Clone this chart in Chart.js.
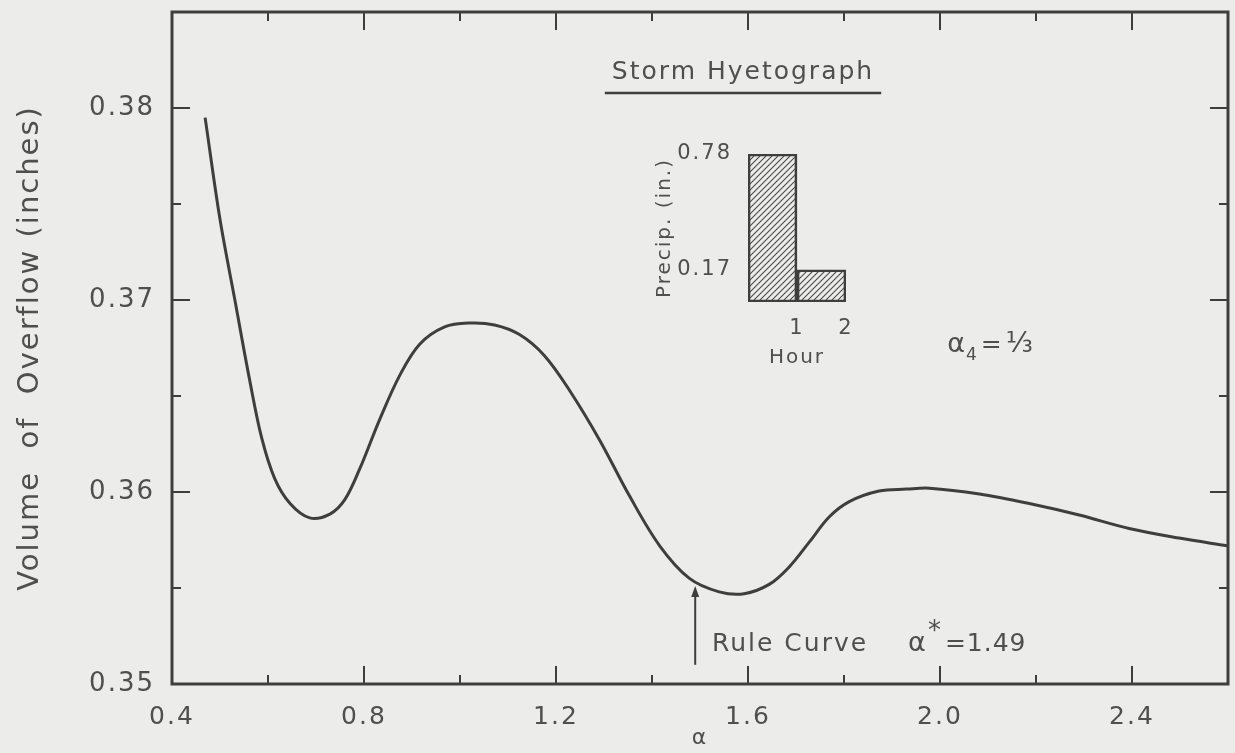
<!DOCTYPE html>
<html>
<head>
<meta charset="utf-8">
<script src="https://cdn.jsdelivr.net/npm/chart.js@4.4.1/dist/chart.umd.min.js"></script>
<style>
  html, body { margin: 0; padding: 0; background: #ececea; }
  #wrap { position: relative; width: 1235px; height: 753px; overflow: hidden; }
  #main { position: absolute; left: 0; top: 0; }
  #inset { position: absolute; left: 590px; top: 50px; }
</style>
</head>
<body>
<div id="wrap">
  <canvas id="main" width="1235" height="753"></canvas>
  <canvas id="inset" width="310" height="320"></canvas>
</div>
<script>
// Overflow volume as a function of the rule-curve parameter alpha
const alphaValues = [
  0.469, 0.500, 0.531, 0.562, 0.587, 0.614, 0.646, 0.687, 0.729, 0.760,
  0.791, 0.833, 0.875, 0.916, 0.968, 1.020, 1.072, 1.124, 1.176, 1.228,
  1.291, 1.353, 1.416, 1.478, 1.540, 1.592, 1.645, 1.686, 1.728, 1.769,
  1.811, 1.873, 1.930, 1.978, 2.082, 2.186, 2.290, 2.394, 2.498, 2.598
];
const overflowValues = [
  0.3795, 0.3742, 0.3700, 0.3658, 0.3628, 0.3607, 0.3594, 0.35865, 0.35885, 0.3596,
  0.3612, 0.3638, 0.3661, 0.3677, 0.3686, 0.3688, 0.3687, 0.3682, 0.3671, 0.3653,
  0.3627, 0.3598, 0.3572, 0.3555, 0.3548, 0.3547, 0.3552, 0.3561, 0.3574, 0.3587,
  0.3595, 0.36005, 0.36015, 0.3602, 0.3599, 0.3594, 0.3588, 0.3581, 0.3576, 0.3572
];
const xTickLabels = ['0.4', '0.8', '1.2', '1.6', '2.0', '2.4'];
const yTickLabels = ['0.35', '0.36', '0.37', '0.38'];

// Selected rule curve
const ruleCurveAlpha = 1.49;
const ruleArrowFrom = 0.3510;
const ruleArrowTo = 0.3551;

// Storm hyetograph (inset)
const stormHours = [1, 2];
const stormPrecip = [0.78, 0.17];
const precipTickLabels = ['0.17', '0.78'];
const insetTitle = 'Storm Hyetograph';

const INK = '#3e3e3e';
const TEXT = '#4f4f4f';
const FONT = "'DejaVu Sans', sans-serif";

function isMultiple(v, step) {
  const r = v / step;
  return Math.abs(r - Math.round(r)) < 1e-6;
}

// Frame, inward tick marks on all four sides, arrow and annotations
const frameAndTicks = {
  id: 'frameAndTicks',
  beforeDraw(chart) {
    chart.ctx.letterSpacing = '2px';
  },
  afterDatasetsDraw(chart) {
    const { ctx, chartArea: a, scales: { x, y } } = chart;
    ctx.save();
    ctx.strokeStyle = INK;
    ctx.lineWidth = 3;
    ctx.strokeRect(a.left, a.top, a.right - a.left, a.bottom - a.top);

    ctx.lineWidth = 2;
    ctx.beginPath();
    x.ticks.forEach(t => {
      if (t.value <= x.min + 1e-9 || t.value >= x.max - 1e-9) return;
      const px = x.getPixelForValue(t.value);
      const len = isMultiple(t.value, 0.4) ? 18 : 9;
      ctx.moveTo(px, a.bottom); ctx.lineTo(px, a.bottom - len);
      ctx.moveTo(px, a.top); ctx.lineTo(px, a.top + len);
    });
    y.ticks.forEach(t => {
      if (t.value <= y.min + 1e-9 || t.value >= y.max - 1e-9) return;
      const py = y.getPixelForValue(t.value);
      const len = isMultiple(t.value, 0.01) ? 18 : 9;
      ctx.moveTo(a.left, py); ctx.lineTo(a.left + len, py);
      ctx.moveTo(a.right, py); ctx.lineTo(a.right - len, py);
    });
    ctx.stroke();

    // Arrow pointing at the rule curve value
    const ax = x.getPixelForValue(ruleCurveAlpha);
    const ay0 = y.getPixelForValue(ruleArrowFrom);
    const ay1 = y.getPixelForValue(ruleArrowTo);
    ctx.lineWidth = 2;
    ctx.beginPath();
    ctx.moveTo(ax, ay0); ctx.lineTo(ax, ay1 + 8);
    ctx.stroke();
    ctx.fillStyle = INK;
    ctx.beginPath();
    ctx.moveTo(ax, ay1); ctx.lineTo(ax - 4, ay1 + 11); ctx.lineTo(ax + 4, ay1 + 11);
    ctx.closePath(); ctx.fill();

    // Annotation: Rule Curve α* = 1.49
    ctx.fillStyle = TEXT;
    ctx.textBaseline = 'alphabetic';
    ctx.textAlign = 'left';
    ctx.letterSpacing = '2px';
    let tx = x.getPixelForValue(1.525);
    const ty = y.getPixelForValue(0.35172);
    ctx.font = `25px ${FONT}`;
    ctx.fillText('Rule Curve', tx, ty);
    tx += ctx.measureText('Rule Curve').width + 40;
    ctx.font = `27px ${FONT}`;
    ctx.fillText('α', tx, ty);
    tx += ctx.measureText('α').width;
    ctx.font = `26px ${FONT}`;
    ctx.fillText('*', tx, ty - 12);
    tx += ctx.measureText('*').width + 2;
    ctx.font = `25px ${FONT}`;
    ctx.letterSpacing = '1px';
    ctx.fillText('=1.49', tx, ty);

    // Annotation: α4 = 1/3
    ctx.letterSpacing = '1px';
    let sx = x.getPixelForValue(2.015);
    const sy = y.getPixelForValue(0.36729);
    ctx.font = `27px ${FONT}`;
    ctx.fillText('α', sx, sy);
    sx += ctx.measureText('α').width;
    ctx.font = `17px ${FONT}`;
    ctx.fillText('4', sx, sy + 8);
    sx += ctx.measureText('4').width + 3;
    ctx.font = `25px ${FONT}`;
    ctx.fillText('=', sx, sy);
    sx += ctx.measureText('=').width + 3;
    ctx.font = `28px ${FONT}`;
    ctx.fillText('⅓', sx, sy);
    ctx.restore();
  }
};

new Chart(document.getElementById('main'), {
  type: 'line',
  data: {
    datasets: [{
      data: alphaValues.map((a, i) => ({ x: a, y: overflowValues[i] })),
      borderColor: INK,
      borderWidth: 3,
      pointRadius: 0,
      tension: 0.35,
      fill: false
    }]
  },
  options: {
    responsive: false,
    animation: false,
    layout: { padding: { top: 12, right: 7, left: 9, bottom: 0 } },
    plugins: { legend: { display: false }, tooltip: { enabled: false } },
    scales: {
      x: {
        type: 'linear',
        min: 0.4,
        max: 2.6,
        grid: { display: false },
        border: { display: false },
        ticks: {
          stepSize: 0.2,
          autoSkip: false,
          maxRotation: 0,
          padding: 10,
          color: TEXT,
          font: { family: FONT, size: 25 },
          callback: v => {
            const s = Number(v).toFixed(1);
            return isMultiple(v, 0.4) && xTickLabels.includes(s) ? s : '';
          }
        },
        title: {
          display: true,
          text: 'α',
          color: TEXT,
          font: { family: FONT, size: 22 },
          padding: { top: 0, bottom: 2 }
        },
        afterFit: s => {
          s.height = 69;
          s.paddingLeft = 0;
          s.paddingRight = 0;
        }
      },
      y: {
        type: 'linear',
        min: 0.35,
        max: 0.385,
        grid: { display: false },
        border: { display: false },
        ticks: {
          stepSize: 0.005,
          autoSkip: false,
          padding: 9,
          color: TEXT,
          font: { family: FONT, size: 26 },
          callback: v => {
            const s = Number(v).toFixed(2);
            return isMultiple(v, 0.01) && yTickLabels.includes(s) ? s : '';
          }
        },
        title: {
          display: true,
          text: 'Volume  of  Overflow (inches)',
          color: TEXT,
          font: { family: FONT, size: 29 },
          padding: { top: 4, bottom: 0 }
        },
        afterFit: s => {
          s.width = 163;
          s.paddingTop = 0;
          s.paddingBottom = 0;
        }
      }
    }
  },
  plugins: [frameAndTicks]
});

// Hatched fill for the hyetograph bars
const insetCanvas = document.getElementById('inset');
const hatch = (() => {
  const c = document.createElement('canvas');
  c.width = 6; c.height = 6;
  const g = c.getContext('2d');
  g.strokeStyle = '#4a4a4a';
  g.lineWidth = 1.1;
  g.beginPath();
  g.moveTo(0, 6); g.lineTo(6, 0);
  g.moveTo(-1, 1); g.lineTo(1, -1);
  g.moveTo(5, 7); g.lineTo(7, 5);
  g.stroke();
  return insetCanvas.getContext('2d').createPattern(c, 'repeat');
})();

// Underlined heading of the inset
const insetHeading = {
  id: 'insetHeading',
  beforeDraw(chart) {
    chart.ctx.letterSpacing = '2px';
  },
  afterDraw(chart) {
    const { ctx } = chart;
    ctx.save();
    ctx.font = `25px ${FONT}`;
    ctx.letterSpacing = '2px';
    ctx.fillStyle = TEXT;
    ctx.textAlign = 'center';
    ctx.textBaseline = 'middle';
    const cx = 152;
    ctx.fillText(insetTitle, cx + 1, 22);
    const w = ctx.measureText(insetTitle).width;
    ctx.strokeStyle = INK;
    ctx.lineWidth = 2.5;
    ctx.beginPath();
    ctx.moveTo(cx - w / 2 - 6, 43);
    ctx.lineTo(cx + w / 2 + 8, 43);
    ctx.stroke();
    ctx.restore();
  }
};

new Chart(insetCanvas, {
  type: 'bar',
  data: {
    datasets: [{
      data: stormHours.map((h, i) => ({ x: h - 0.5, y: stormPrecip[i] })),
      backgroundColor: hatch,
      borderColor: INK,
      borderWidth: 2,
      borderSkipped: false,
      barPercentage: 1,
      categoryPercentage: 1
    }]
  },
  options: {
    responsive: false,
    animation: false,
    layout: { padding: { top: 104, right: 54, left: 60, bottom: 0 } },
    plugins: {
      legend: { display: false },
      tooltip: { enabled: false },
      title: { display: false }
    },
    scales: {
      x: {
        type: 'linear',
        min: 0,
        max: 2,
        offset: false,
        grid: { display: false },
        border: { display: false },
        ticks: {
          stepSize: 1,
          padding: 6,
          color: TEXT,
          font: { family: FONT, size: 21 },
          callback: v => (v === 0 ? '' : String(v))
        },
        title: {
          display: true,
          text: 'Hour',
          color: TEXT,
          font: { family: FONT, size: 20 },
          padding: { top: 4, bottom: 0 }
        },
        afterFit: s => {
          s.height = 68;
          s.paddingLeft = 0;
          s.paddingRight = 0;
        }
      },
      y: {
        min: 0,
        max: 0.78,
        grid: { display: false },
        border: { display: false },
        afterBuildTicks: s => { s.ticks = precipTickLabels.map(v => ({ value: Number(v) })); },
        ticks: {
          padding: 8,
          color: TEXT,
          font: { family: FONT, size: 21 },
          callback: v => Number(v).toFixed(2)
        },
        title: {
          display: true,
          text: 'Precip. (in.)',
          color: TEXT,
          font: { family: FONT, size: 20 },
          padding: { top: 3, bottom: 0 }
        },
        afterFit: s => {
          s.width = 98;
          s.paddingTop = 0;
          s.paddingBottom = 0;
        }
      }
    }
  },
  plugins: [insetHeading]
});
</script>
</body>
</html>
